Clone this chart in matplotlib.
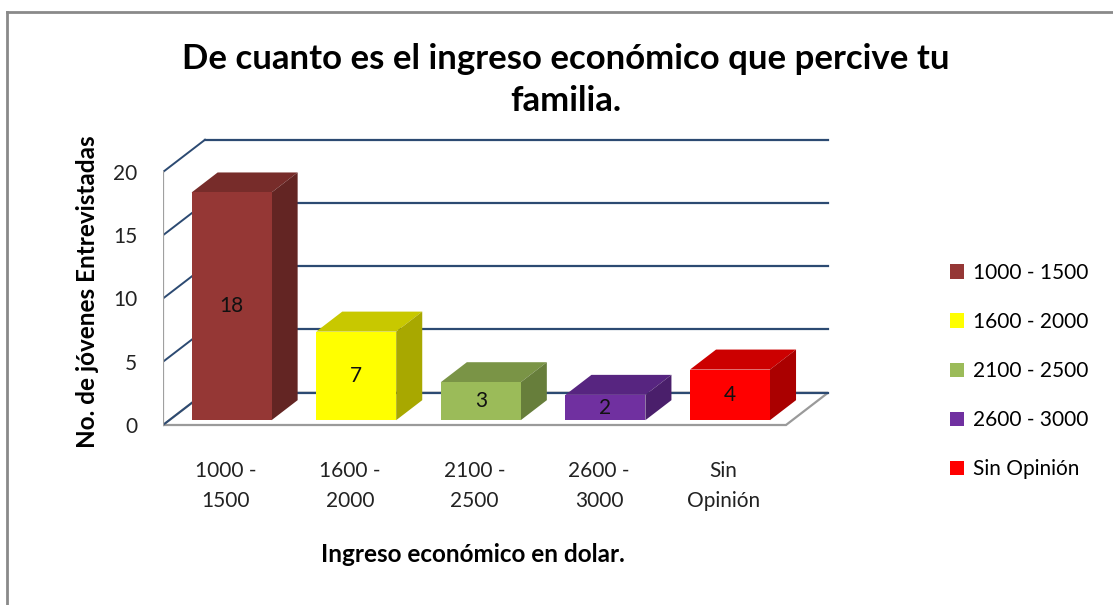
import matplotlib
matplotlib.use("Agg")
import matplotlib.pyplot as plt
from matplotlib.patches import Polygon
from matplotlib.lines import Line2D

# data
categories = ["1000 - 1500", "1600 - 2000", "2100 - 2500", "2600 - 3000", "Sin Opinión"]
tick_labels = ["1000 -\n1500", "1600 -\n2000", "2100 -\n2500", "2600 -\n3000", "Sin\nOpinión"]
values = [18, 7, 3, 2, 4]
yticks = [0, 5, 10, 15, 20]

front_colors = ["#953735", "#ffff00", "#9bbb59", "#7030a0", "#ff0000"]
top_colors = ["#772c2a", "#c8c800", "#7a9446", "#572580", "#cc0000"]
side_colors = ["#632523", "#a8a800", "#677e3b", "#4a1f6b", "#aa0000"]

plt.rcParams['font.family'] = ['Lato', 'DejaVu Sans']

W, H = 1113, 605
fig = plt.figure(figsize=(W / 100, H / 100), dpi=100)

# pixel layout of the plot box
px_x0, px_x1 = 163, 863
px_ytop, px_ybot = 135, 440
cat_px = 124.6
val_px = 12.65
ax = fig.add_axes([px_x0 / W, 1 - px_ybot / H, (px_x1 - px_x0) / W, (px_ybot - px_ytop) / H])
ax.set_xlim(-0.5, -0.5 + (px_x1 - px_x0) / cat_px)
ax.set_ylim(-(px_ybot - 425) / val_px, (425 - px_ytop) / val_px)
for s in ax.spines.values():
    s.set_visible(False)
ax.set_xticks([])
ax.set_yticks(yticks)
ax.set_yticklabels([str(v) for v in yticks], fontsize=15, color="#222222")
ax.tick_params(axis="y", length=0, pad=18.5)

DX = 42 / cat_px   # full depth offset
DY = 2.55
n = len(values)
x_left, x_right = -0.5, n - 0.5
grid_c = "#2c4a72"

# floor
floor = Polygon([(x_left, 0), (x_right, 0), (x_right + DX, DY), (x_left + DX, DY)],
                closed=True, facecolor="white", edgecolor="#9a9a9a", lw=1.6, zorder=1)
ax.add_patch(floor)

# back wall grid lines and side wall lines
for v in yticks:
    ax.plot([x_left + DX, x_right + DX], [v + DY, v + DY], color=grid_c, lw=1.6, zorder=2)
    ax.plot([x_left, x_left + DX], [v, v + DY], color=grid_c, lw=1.4, zorder=2)
ax.plot([x_left, x_left], [0, max(yticks)], color="#a0a0a0", lw=1.6, zorder=2)

# bars
f0, f1 = 0.15, 0.77
w = 0.642
dd = f1 - f0
for i, v in enumerate(values):
    xc = i + f0 * DX
    b = f0 * DY
    ax.bar(xc, v, width=w, bottom=b, color=front_colors[i], zorder=5, label=categories[i])
    xl, xr, top = xc - w / 2, xc + w / 2, b + v
    ax.add_patch(Polygon([(xl, top), (xr, top), (xr + dd * DX, top + dd * DY), (xl + dd * DX, top + dd * DY)],
                         closed=True, facecolor=top_colors[i], edgecolor="none", zorder=4))
    ax.add_patch(Polygon([(xr, b), (xr, top), (xr + dd * DX, top + dd * DY), (xr + dd * DX, b + dd * DY)],
                         closed=True, facecolor=side_colors[i], edgecolor="none", zorder=4))
    ax.text(xc, b + v / 2, str(v), ha="center", va="center", fontsize=15, color="#111111", zorder=6)
    ax.text(i, -(461 - 425) / val_px, tick_labels[i], ha="center", va="top", fontsize=15,
            color="#222222", linespacing=1.65)

# titles
fig.text(566 / W, 1 - 80 / H, "De cuanto es el ingreso económico que percive tu\nfamilia.",
         ha="center", va="center", fontsize=25, fontweight="bold", linespacing=1.4)
fig.text(88 / W, 1 - 292 / H, "No. de jóvenes Entrevistadas", rotation=90, ha="center", va="center",
         fontsize=17.5, fontweight="bold")
fig.text(473 / W, 1 - 555 / H, "Ingreso económico en dolar.", ha="center", va="center",
         fontsize=17.5, fontweight="bold")

# legend
handles, labels = ax.get_legend_handles_labels()
fig.legend(handles, labels, loc="upper left", bbox_to_anchor=(931 / W, 1 - 244 / H), frameon=False,
           fontsize=15, handlelength=0.7, handleheight=0.7, handletextpad=0.4, labelspacing=1.4)

# chart border
fig.add_artist(Line2D([7 / W, 7 / W], [0, 1 - 12 / H], color="#8a8a8a", lw=2))
fig.add_artist(Line2D([7 / W, 1], [1 - 12 / H, 1 - 12 / H], color="#8a8a8a", lw=2))

fig.savefig("out.png", dpi=100)
